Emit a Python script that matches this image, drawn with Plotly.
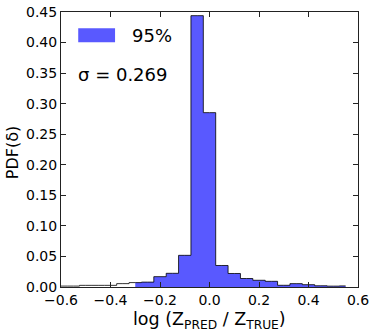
import plotly.graph_objects as go

# bin centres of log(Z_pred / Z_true) and the normalised histogram
bin_centers = [-0.60, -0.55, -0.50, -0.45, -0.40, -0.35, -0.30, -0.25, -0.20, -0.15,
               -0.10, -0.05, 0.00, 0.05, 0.10, 0.15, 0.20, 0.25, 0.30, 0.35,
               0.40, 0.45, 0.50, 0.55]
pdf_values = [0.0015, 0.0015, 0.0027, 0.0027, 0.0027, 0.0055, 0.0072, 0.0080, 0.0169, 0.0224,
              0.0518, 0.4440, 0.2853, 0.0352, 0.0221, 0.0139, 0.0110, 0.0093, 0.0028, 0.0055,
              0.0038, 0.0020, 0.0014, 0.0018]

# the shaded 95% interval
ci_low, ci_high = -0.30, 0.55
ci_x = [x for x in bin_centers if ci_low - 1e-9 <= x <= ci_high + 1e-9]
ci_y = [y for x, y in zip(bin_centers, pdf_values) if ci_low - 1e-9 <= x <= ci_high + 1e-9]

sigma = 0.269
x_ticks = [-0.6, -0.4, -0.2, 0.0, 0.2, 0.4, 0.6]
y_ticks = [0.00, 0.05, 0.10, 0.15, 0.20, 0.25, 0.30, 0.35, 0.40, 0.45]

FONT = "DejaVu Sans"

fig = go.Figure()

# filled 95% region
fig.add_trace(go.Scatter(
    x=ci_x, y=ci_y,
    mode='lines',
    line=dict(shape='hvh', width=0, color='rgba(0,0,255,0.65)'),
    fill='tozeroy',
    fillcolor='rgba(0,0,255,0.65)',
    hoverinfo='skip',
    showlegend=False
))

# step outline of the whole histogram
fig.add_trace(go.Scatter(
    x=bin_centers, y=pdf_values,
    mode='lines',
    line=dict(shape='hvh', width=1, color='rgba(0,0,0,0.8)'),
    showlegend=False
))

axis_common = dict(
    showline=True, linecolor='#222', linewidth=1, mirror='allticks',
    ticks='inside', ticklen=5, tickcolor='#222', tickwidth=1,
    showgrid=False, zeroline=False, automargin=False,
    tickfont=dict(family=FONT, size=14, color='black'),
)

fig.update_layout(
    width=374, height=331,
    margin=dict(l=61, r=16, t=12, b=44),
    plot_bgcolor='white', paper_bgcolor='white',
    font=dict(family=FONT, color='black'),
    xaxis=dict(
        range=[-0.6, 0.6],
        tickvals=x_ticks,
        ticktext=[f"{v:.1f}".replace('-', '\u2212') for v in x_ticks],
        **axis_common
    ),
    yaxis=dict(
        range=[0, 0.45],
        tickvals=y_ticks,
        ticktext=[f"{v:.2f}" for v in y_ticks],
        **axis_common
    ),
)

# axis titles placed as annotations so the margins stay fixed
fig.add_annotation(xref='paper', yref='paper', x=0.5, y=-0.122,
                   xanchor='center', yanchor='middle', showarrow=False,
                   text="log (Z<sub>PRED</sub> / Z<sub>TRUE</sub>)",
                   font=dict(family=FONT, size=17.5, color='black'))
fig.add_annotation(xref='paper', yref='paper', x=-0.165, y=0.49,
                   xanchor='center', yanchor='middle', showarrow=False, textangle=-90,
                   text="PDF(\u03b4)", font=dict(family=FONT, size=16, color='black'))

# legend patch drawn by hand (matplotlib-style wide rectangle)
fig.add_shape(type='rect', xref='paper', yref='paper',
              x0=0.058, x1=0.182, y0=0.890, y1=0.941,
              fillcolor='rgba(0,0,255,0.65)', line=dict(width=0))
fig.add_annotation(xref='paper', yref='paper', x=0.232, y=0.916,
                   xanchor='left', yanchor='middle', showarrow=False,
                   text="95%", font=dict(family=FONT, size=18, color='black'))
fig.add_annotation(xref='paper', yref='paper', x=0.05, y=0.772,
                   xanchor='left', yanchor='middle', showarrow=False,
                   text=f"\u03c3 = {sigma:.3f}", font=dict(family=FONT, size=18, color='black'))

# drop the default page margin so the figure sits at the window's corner
fig.write_html("out.html", config={'displayModeBar': False},
               post_script="document.body.style.margin='0';")
